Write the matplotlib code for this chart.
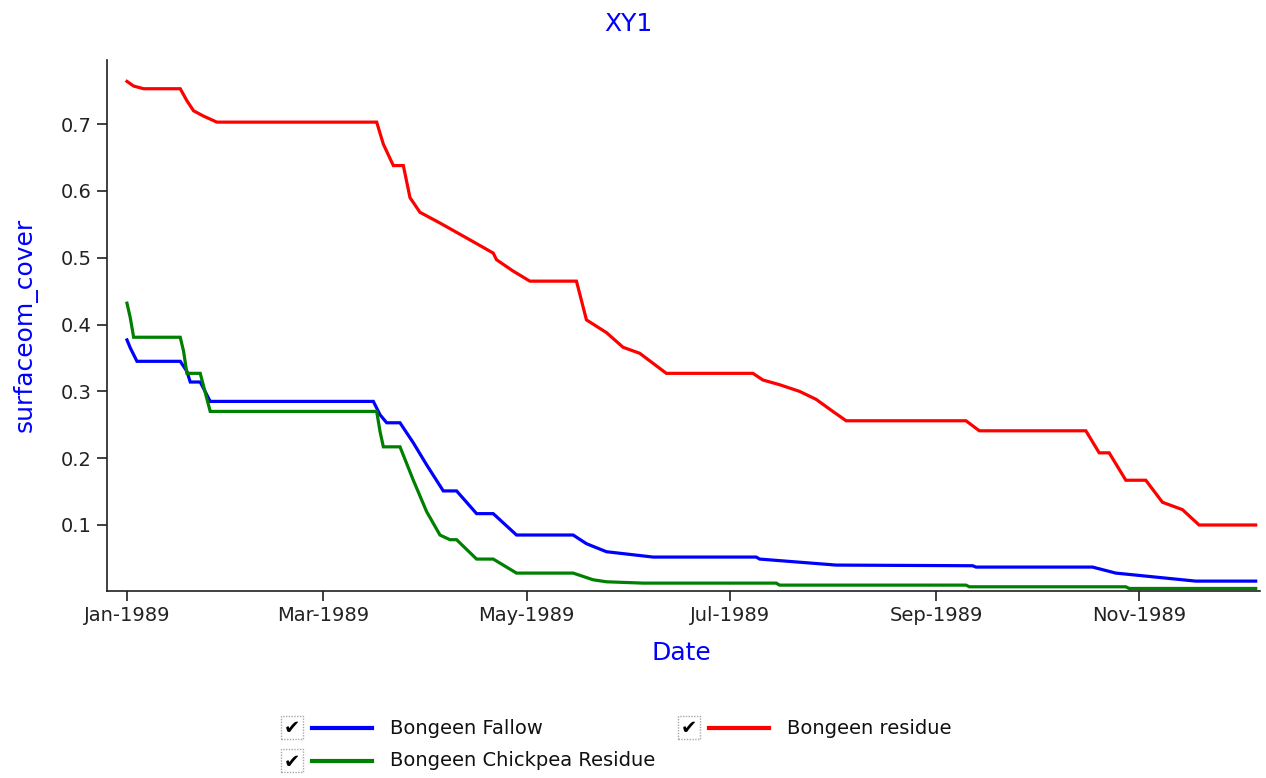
#!/usr/bin/env python3
"""
plot.py - surface organic matter cover for the three Bongeen simulations (XY1)
"""

import pandas as pd
import matplotlib
matplotlib.use("Agg")
import matplotlib.pyplot as plt
import matplotlib.dates as mdates
from matplotlib.patches import Rectangle
from matplotlib.lines import Line2D

# ---------- Data (days since 1-Jan-1989, surfaceom_cover) ----------
START = pd.Timestamp("1989-01-01")

fallow_days = [0, 1, 3, 16, 18, 19, 22, 25, 74, 76, 78, 82, 86, 90, 95, 99,
               105, 110, 117, 134, 138, 144, 158, 189, 190, 213, 254, 255,
               290, 297, 309, 321, 339]
fallow_cover = [0.377, 0.365, 0.345, 0.345, 0.330, 0.314, 0.314, 0.285,
                0.285, 0.265, 0.253, 0.253, 0.223, 0.190, 0.151, 0.151,
                0.117, 0.117, 0.085, 0.085, 0.072, 0.060, 0.052, 0.052,
                0.049, 0.040, 0.039, 0.037, 0.037, 0.028, 0.022, 0.016,
                0.016]

chickpea_days = [0, 1, 2, 16, 17, 18, 22, 25, 75, 76, 77, 82, 86, 90, 94,
                 97, 99, 105, 110, 117, 134, 140, 144, 155, 195, 196, 252,
                 253, 300, 301, 339]
chickpea_cover = [0.432, 0.410, 0.381, 0.381, 0.360, 0.327, 0.327, 0.270,
                  0.270, 0.240, 0.217, 0.217, 0.167, 0.120, 0.085, 0.078,
                  0.078, 0.049, 0.049, 0.028, 0.028, 0.018, 0.015, 0.013,
                  0.013, 0.010, 0.010, 0.0075, 0.0075, 0.005, 0.005]

residue_days = [0, 2, 5, 16, 18, 20, 23, 27, 75, 77, 80, 83, 85, 88, 94, 99,
                104, 110, 111, 116, 121, 135, 138, 144, 149, 154, 158, 162,
                188, 191, 196, 202, 207, 212, 216, 252, 256, 288, 292, 295,
                300, 306, 311, 317, 322, 339]
residue_cover = [0.764, 0.757, 0.753, 0.753, 0.735, 0.720, 0.712, 0.703,
                 0.703, 0.670, 0.638, 0.638, 0.590, 0.568, 0.552, 0.538,
                 0.524, 0.507, 0.497, 0.480, 0.465, 0.465, 0.407, 0.388,
                 0.366, 0.357, 0.342, 0.327, 0.327, 0.317, 0.310, 0.300,
                 0.288, 0.270, 0.256, 0.256, 0.241, 0.241, 0.208, 0.208,
                 0.167, 0.167, 0.134, 0.123, 0.100, 0.100]

series_names = ["Bongeen Fallow", "Bongeen Chickpea Residue", "Bongeen residue"]
series_colors = ["#0000ff", "#008000", "#ff0000"]

y_ticks = [0.1, 0.2, 0.3, 0.4, 0.5, 0.6, 0.7]


def to_dates(days):
    return START + pd.to_timedelta(days, unit="D")


# ---------- Figure ----------
plt.rcParams["font.family"] = ["DejaVu Sans"]
W, H = 1266, 778
fig = plt.figure(figsize=(W / 100, H / 100), dpi=100)
fig.patch.set_facecolor("white")

ax = fig.add_axes([107 / W, 1 - 591 / H, (1260 - 107) / W, (591 - 60) / H])

all_series = [(fallow_days, fallow_cover),
              (chickpea_days, chickpea_cover),
              (residue_days, residue_cover)]
for (days, cover), name, col in zip(all_series, series_names, series_colors):
    ax.plot(to_dates(days), cover, color=col, lw=2.3, label=name,
            solid_joinstyle="miter")

ax.set_xlim(START - pd.Timedelta(days=6), START + pd.Timedelta(days=340.3))
ax.set_ylim(0.0012, 0.796)

ax.xaxis.set_major_locator(mdates.MonthLocator(bymonth=[1, 3, 5, 7, 9, 11]))
ax.xaxis.set_major_formatter(mdates.DateFormatter("%b-%Y"))
ax.set_yticks(y_ticks)
ax.set_yticklabels([f"{v:.1f}" for v in y_ticks])

for side in ["top", "right"]:
    ax.spines[side].set_visible(False)
for side in ["left", "bottom"]:
    ax.spines[side].set_color("#202020")
    ax.spines[side].set_linewidth(1.2)

ax.tick_params(axis="both", direction="out", length=7, width=1.2,
               color="#202020", labelsize=14, labelcolor="#222222", pad=4)

# titles / axis labels (blue, as in the original app)
fig.text(628 / W, 1 - 24 / H, "XY1", color="#0000ff", fontsize=18,
         ha="center", va="center")
fig.text(681 / W, 1 - 653 / H, "Date", color="#0000ff", fontsize=18,
         ha="center", va="center")
fig.text(25 / W, 1 - 325 / H, "surfaceom_cover", color="#0000ff", fontsize=18,
         ha="center", va="center", rotation=90)

# ---------- Legend with check boxes ----------
legend_pos = [(281, 728), (281, 761), (678, 728)]  # checkbox left, row centre (px)
for (lx, ly), name, col in zip(legend_pos, series_names, series_colors):
    box = Rectangle((lx / W, 1 - (ly + 11) / H), 22 / W, 23 / H,
                    transform=fig.transFigure, facecolor="white",
                    edgecolor="#a8a8a8", lw=1.0, ls=(0, (1, 1)))
    fig.patches.append(box)
    fig.text((lx + 11) / W, 1 - (ly + 1) / H, "\u2714", fontsize=14,
             fontweight="bold", color="black", ha="center", va="center")
    fig.lines.append(Line2D([(lx + 31) / W, (lx + 91) / W],
                            [1 - ly / H, 1 - ly / H],
                            transform=fig.transFigure, color=col, lw=3))
    fig.text((lx + 109) / W, 1 - ly / H, name, fontsize=14,
             color="#111111", ha="left", va="center")

fig.savefig("out.png", dpi=100)
print("saved out.png")
